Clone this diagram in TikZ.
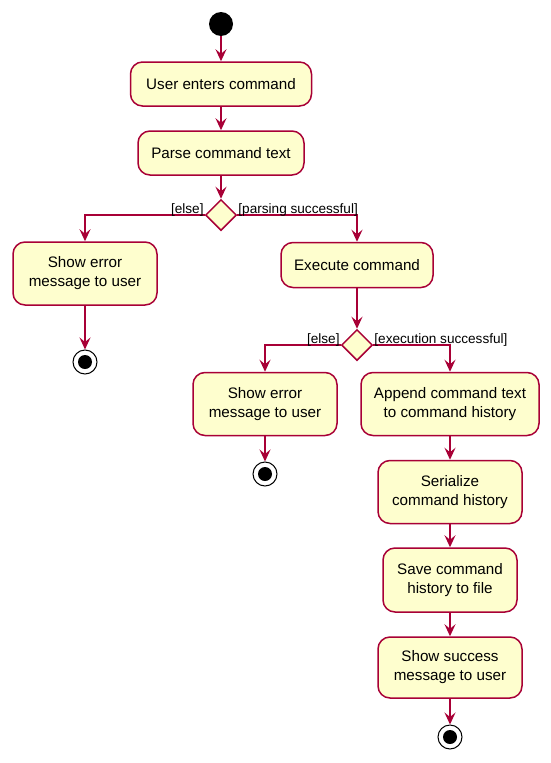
\documentclass[tikz,border=0pt]{standalone}
\usepackage{fontspec}
\setmainfont{Liberation Sans}
\usetikzlibrary{arrows.meta,shapes.geometric}
\definecolor{umlfill}{HTML}{FEFECE}
\definecolor{umlline}{HTML}{A80036}
\begin{document}
\begin{tikzpicture}[x=1pt,y=-1pt,
  act/.style={draw=umlline,fill=umlfill,line width=1.5pt,rounded corners=12pt,
    align=center,inner sep=0pt,font=\fontsize{15.2}{19}\selectfont},
  dec/.style={draw=umlline,fill=umlfill,line width=1.5pt,diamond,inner sep=0pt,
    minimum width=31pt,minimum height=31pt},
  startnode/.style={circle,fill=black,minimum size=24pt,inner sep=0pt},
  stopnode/.style={circle,draw=black,fill=white,line width=1pt,minimum size=24pt,inner sep=0pt,
    path picture={\fill[black] (path picture bounding box.center) circle (7pt);}},
  flow/.style={draw=umlline,line width=1.5pt,-{Stealth[length=12pt,width=11pt,inset=4.5pt]}},
  guard/.style={font=\fontsize{13.6}{15}\selectfont,inner sep=0pt}
]
\useasboundingbox (0,0) rectangle (551,763);
\node[startnode] (start) at (221,24) {};
\node[act,minimum width=181pt,minimum height=44pt] (b1) at (221,84) {User enters command};
\node[act,minimum width=166pt,minimum height=44pt] (b2) at (221,153) {Parse command text};
\node[dec] (d1) at (221,215) {};
\node[act,minimum width=144pt,minimum height=63pt] (b3) at (85,273.5) {Show error\\message to user};
\node[stopnode] (s1) at (85,362) {};
\node[act,minimum width=152pt,minimum height=45pt] (b4) at (357,265) {Execute command};
\node[dec] (d2) at (357,345) {};
\node[act,minimum width=144pt,minimum height=63pt] (b5) at (265,404) {Show error\\message to user};
\node[stopnode] (s2) at (265,474) {};
\node[act,minimum width=178pt,minimum height=63pt] (b6) at (450,404) {Append command text\\to command history};
\node[act,minimum width=144pt,minimum height=63pt] (b7) at (450,492) {Serialize\\command history};
\node[act,minimum width=134pt,minimum height=64pt] (b8) at (450,580) {Save command\\history to file};
\node[act,minimum width=144pt,minimum height=61pt] (b9) at (450,667.5) {Show success\\message to user};
\node[stopnode] (s3) at (450,737) {};

\draw[flow] (start) -- (b1);
\draw[flow] (b1) -- (b2);
\draw[flow] (b2) -- (d1);
\draw[flow] (d1.west) -| (b3.north);
\draw[flow] (d1.east) -| (b4.north);
\draw[flow] (b3) -- (s1);
\draw[flow] (b4) -- (d2);
\draw[flow] (d2.west) -| (b5.north);
\draw[flow] (d2.east) -| (b6.north);
\draw[flow] (b5) -- (s2);
\draw[flow] (b6) -- (b7);
\draw[flow] (b7) -- (b8);
\draw[flow] (b8) -- (b9);
\draw[flow] (b9) -- (s3);

\node[guard,anchor=south east] (g1) at ([xshift=-1pt,yshift=-2pt]d1.west) {[else]};
\node[guard,anchor=south west] (g2) at ([xshift=1pt,yshift=-2pt]d1.east) {[parsing successful]};
\node[guard,anchor=south east] (g3) at ([xshift=-1pt,yshift=-2pt]d2.west) {[else]};
\node[guard,anchor=south west] (g4) at ([xshift=1pt,yshift=-2pt]d2.east) {[execution successful]};
\end{tikzpicture}
\end{document}
